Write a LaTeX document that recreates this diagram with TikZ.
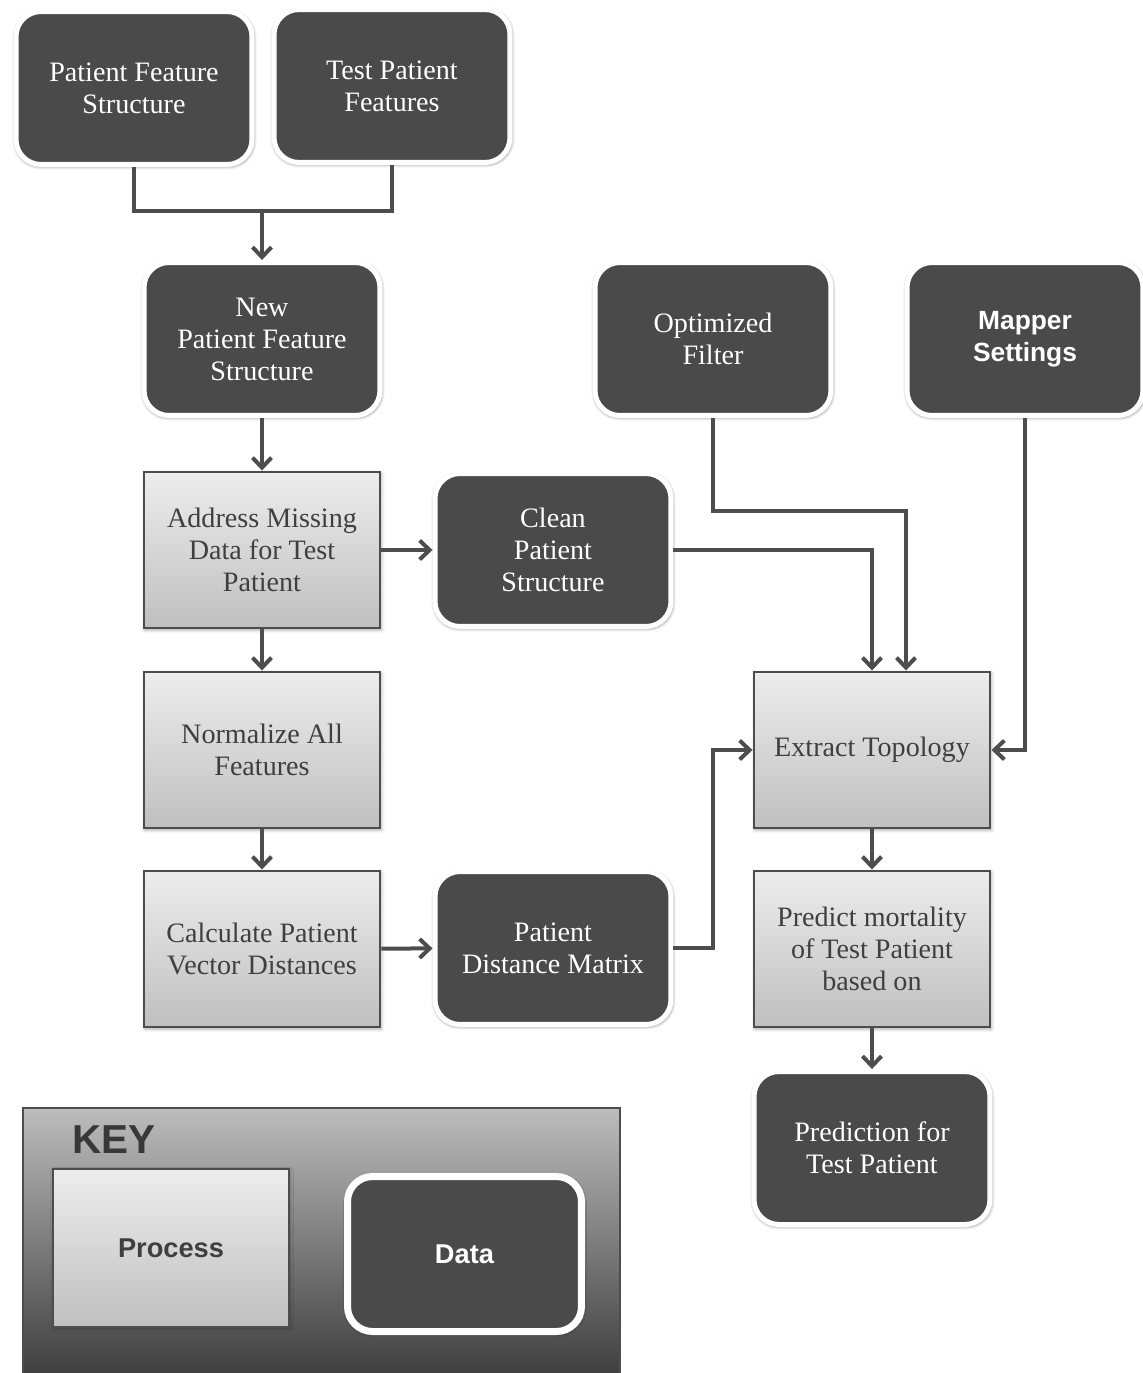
\documentclass[tikz,border=0pt]{standalone}
\usepackage{fontspec}
\setmainfont{Liberation Serif}
\setsansfont{Liberation Sans}
\usetikzlibrary{arrows.meta,shadows.blur}

\definecolor{datafill}{HTML}{4A4A4A}
\definecolor{linegray}{HTML}{4D4D4D}
\definecolor{textgray}{HTML}{3F3F3F}

\tikzset{
  datanode/.style={rectangle, rounded corners=0.5cm, fill=datafill, draw=white,
    line width=0.1cm, minimum width=4.72cm, minimum height=3.06cm, align=center,
    text=white, font=\fontsize{16}{18.2}\selectfont,
    blur shadow={shadow xshift=0.3pt, shadow yshift=-0.7pt, shadow scale=1.01,
      shadow opacity=50, shadow blur steps=6}},
  procnode/.style={rectangle, top color=black!7, bottom color=black!25, draw=linegray,
    line width=0.04cm, minimum width=4.74cm, minimum height=3.14cm, align=center,
    text=textgray, font=\fontsize{16}{18.2}\selectfont,
    blur shadow={shadow xshift=0.6pt, shadow yshift=-1pt, shadow opacity=30, shadow blur steps=4}},
  link/.style={draw=linegray, line width=0.08cm},
  flow/.style={link, -{Straight Barb[length=0.2cm, width=0.38cm]}},
}

\begin{document}
\begin{tikzpicture}[x=0.02cm, y=-0.02cm]
  \useasboundingbox (0,0) rectangle (1143,1373);

  % Data inputs
  \node[datanode] (pfs) at (134,88) {Patient Feature\\Structure};
  \node[datanode] (tpf) at (392,86) {Test Patient\\Features};
  \node[datanode] (npfs) at (262,339) {New\\Patient Feature\\Structure};
  \node[datanode] (of) at (713,339) {Optimized\\Filter};
  \node[datanode, font=\sffamily\bfseries\fontsize{15}{18}\selectfont] (ms) at (1025,339) {Mapper\\Settings};
  \node[datanode] (cps) at (553,550) {Clean\\Patient\\Structure};
  \node[datanode] (pdm) at (553,948) {Patient\\Distance Matrix};
  \node[datanode] (ptp) at (872,1148) {Prediction for\\Test Patient};

  % Processes
  \node[procnode] (amd) at (262,550) {Address Missing\\Data for Test\\Patient};
  \node[procnode] (naf) at (262,750) {Normalize All\\Features};
  \node[procnode] (cpv) at (262,949) {Calculate Patient\\Vector Distances};
  \node[procnode] (et) at (872,750) {Extract Topology};
  \node[procnode] (pm) at (872,949) {Predict mortality\\of Test Patient\\based on};

  % Connectors
  \coordinate (join) at (262,211);
  \coordinate (ofturn) at (713,511);
  \coordinate (pdmturn) at (713,948);
  \draw[link] (pfs.south) |- (join) -| (tpf.south);
  \draw[flow] (join) -- (npfs.north);
  \draw[flow] (npfs) -- (amd);
  \draw[flow] (amd) -- (cps);
  \draw[flow] (amd) -- (naf);
  \draw[flow] (naf) -- (cpv);
  \draw[flow] (cpv) -- (pdm);
  \draw[flow] (cps.east) -| (et.north);
  \draw[flow] (of.south) -- (ofturn) -| ([xshift=0.68cm]et.north);
  \draw[flow] (ms.south) |- (et.east);
  \draw[flow] (pdm.east) -- (pdmturn) |- (et.west);
  \draw[flow] (et) -- (pm);
  \draw[flow] (pm) -- (ptp);

  % Key
  \node[rectangle, draw=linegray, line width=0.04cm, top color=black!26, middle color=black!37,
    bottom color=black!78, minimum width=11.96cm, minimum height=5.6cm] (key) at (321.5,1248) {};
  \node[anchor=west, text=black!78, font=\sffamily\bfseries\fontsize{23}{26}\selectfont] (keylabel) at (66,1140) {KEY};
  \node[procnode, minimum width=4.72cm, minimum height=3.16cm,
    font=\sffamily\bfseries\fontsize{15.5}{18}\selectfont] (keyproc) at (171,1248) {Process};
  \node[datanode, line width=0.14cm, minimum width=4.68cm, minimum height=3.1cm,
    font=\sffamily\bfseries\fontsize{15.5}{18}\selectfont] (keydata) at (464.5,1254) {Data};
\end{tikzpicture}
\end{document}
